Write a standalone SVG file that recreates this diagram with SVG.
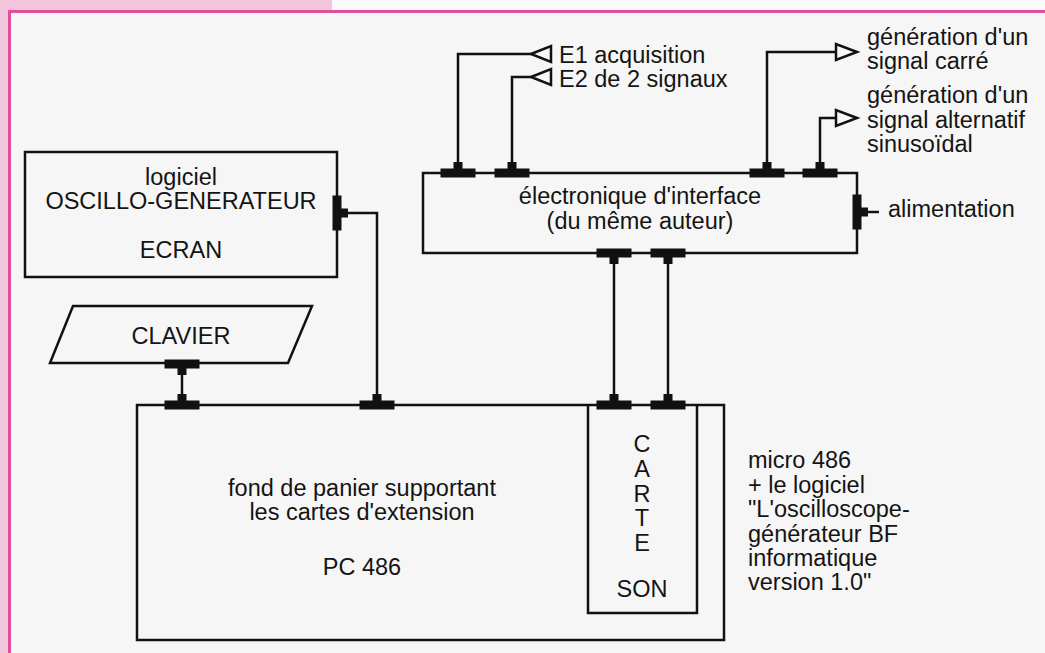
<svg xmlns="http://www.w3.org/2000/svg" xmlns:xlink="http://www.w3.org/1999/xlink" width="1045" height="653" viewBox="0 0 1045 653">
<style>
.box{fill:none;stroke:#111;stroke-width:2.5}
.ln{fill:none;stroke:#111;stroke-width:2.5}
.tri{fill:#f8f7f7;stroke:#111;stroke-width:2.5;stroke-linejoin:miter}
.t{font-family:"Liberation Sans",Arial,Helvetica,sans-serif;font-size:23.5px;fill:#141414}
.c{text-anchor:middle}
</style>
<defs>
<g id="tee">
<rect x="-17.5" y="-4.5" width="35" height="9" fill="#111"/>
<rect x="-4.5" y="-11" width="9" height="7" fill="#111"/>
</g>
</defs>
<rect x="0" y="0" width="1045" height="653" fill="#f7f6f6"/>
<rect x="0" y="0" width="332" height="11" fill="#f2c5dc"/>
<rect x="0" y="0" width="8" height="653" fill="#f2c5dc"/>
<rect x="332" y="0" width="713" height="10" fill="#fbfafa"/>
<line x1="8" y1="11.5" x2="1045" y2="11.5" stroke="#e0509a" stroke-width="3"/>
<line x1="9.5" y1="10" x2="9.5" y2="653" stroke="#e0509a" stroke-width="3"/>

<g id="connectors">
<polyline class="ln" points="348,213 377,213 377,394"/>
<line class="ln" x1="182" y1="374" x2="182" y2="395"/>
<polyline class="ln" points="458,162 458,54 531,54"/>
<polyline class="ln" points="512,162 512,77 531,77"/>
<polygon class="tri" points="531,54 551,46 551,62"/>
<polygon class="tri" points="531,77 551,69 551,85"/>
<polyline class="ln" points="767,162 767,52 836,52"/>
<polyline class="ln" points="820,162 820,118 836,118"/>
<polygon class="tri" points="857,52 836,44 836,60"/>
<polygon class="tri" points="857,118 836,110 836,126"/>
<line class="ln" x1="868" y1="212" x2="879" y2="212"/>
<line class="ln" x1="614" y1="264" x2="614" y2="394"/>
<line class="ln" x1="668" y1="264" x2="668" y2="394"/>
<use xlink:href="#tee" transform="translate(337,213) rotate(90)"/>
<use xlink:href="#tee" transform="translate(182,364) rotate(180)"/>
<use xlink:href="#tee" transform="translate(182,405)"/>
<use xlink:href="#tee" transform="translate(377,405)"/>
<use xlink:href="#tee" transform="translate(458,173)"/>
<use xlink:href="#tee" transform="translate(512,173)"/>
<use xlink:href="#tee" transform="translate(767,173)"/>
<use xlink:href="#tee" transform="translate(820,173)"/>
<use xlink:href="#tee" transform="translate(857,212) rotate(90)"/>
<use xlink:href="#tee" transform="translate(614,253) rotate(180)"/>
<use xlink:href="#tee" transform="translate(668,253) rotate(180)"/>
<use xlink:href="#tee" transform="translate(614,405)"/>
<use xlink:href="#tee" transform="translate(668,405)"/>
</g>

<g id="oscillo">
<rect class="box" x="25" y="152" width="312" height="125"/>
<text class="t c" x="181" y="185">logiciel</text>
<text class="t c" x="181" y="209">OSCILLO-GENERATEUR</text>
<text class="t c" x="181" y="258">ECRAN</text>
</g>

<g id="clavier">
<polygon class="box" points="73,306 312,306 288,363 50,363"/>
<text class="t c" x="181" y="344">CLAVIER</text>
</g>

<g id="interface">
<rect class="box" x="423" y="173" width="434" height="80"/>
<text class="t c" x="640" y="204">électronique d'interface</text>
<text class="t c" x="640" y="229">(du même auteur)</text>
</g>

<g id="inputs">
<text class="t" x="559" y="63">E1 acquisition</text>
<text class="t" x="559" y="87">E2 de 2 signaux</text>
</g>

<g id="outputs">
<text class="t" x="867" y="45">génération d'un</text>
<text class="t" x="867" y="69">signal carré</text>
<text class="t" x="867" y="103">génération d'un</text>
<text class="t" x="867" y="128">signal alternatif</text>
<text class="t" x="867" y="152">sinusoïdal</text>
</g>

<g id="alimentation">
<text class="t" x="888" y="217">alimentation</text>
</g>

<g id="pc">
<rect class="box" x="137" y="405" width="587" height="235"/>
<text class="t c" x="362" y="496">fond de panier supportant</text>
<text class="t c" x="362" y="520">les cartes d'extension</text>
<text class="t c" x="362" y="575">PC 486</text>
</g>

<g id="carte">
<polyline class="box" points="588,405 588,613 697,613 697,405"/>
<text class="t c" x="642" y="452">C</text>
<text class="t c" x="642" y="477">A</text>
<text class="t c" x="642" y="502">R</text>
<text class="t c" x="642" y="526">T</text>
<text class="t c" x="642" y="551">E</text>
<text class="t c" x="642" y="597">SON</text>
</g>

<g id="micro">
<text class="t" x="748" y="468">micro 486</text>
<text class="t" x="748" y="493">+ le logiciel</text>
<text class="t" x="748" y="517">"L'oscilloscope-</text>
<text class="t" x="748" y="542">générateur BF</text>
<text class="t" x="748" y="566">informatique</text>
<text class="t" x="748" y="590">version 1.0"</text>
</g>
</svg>
